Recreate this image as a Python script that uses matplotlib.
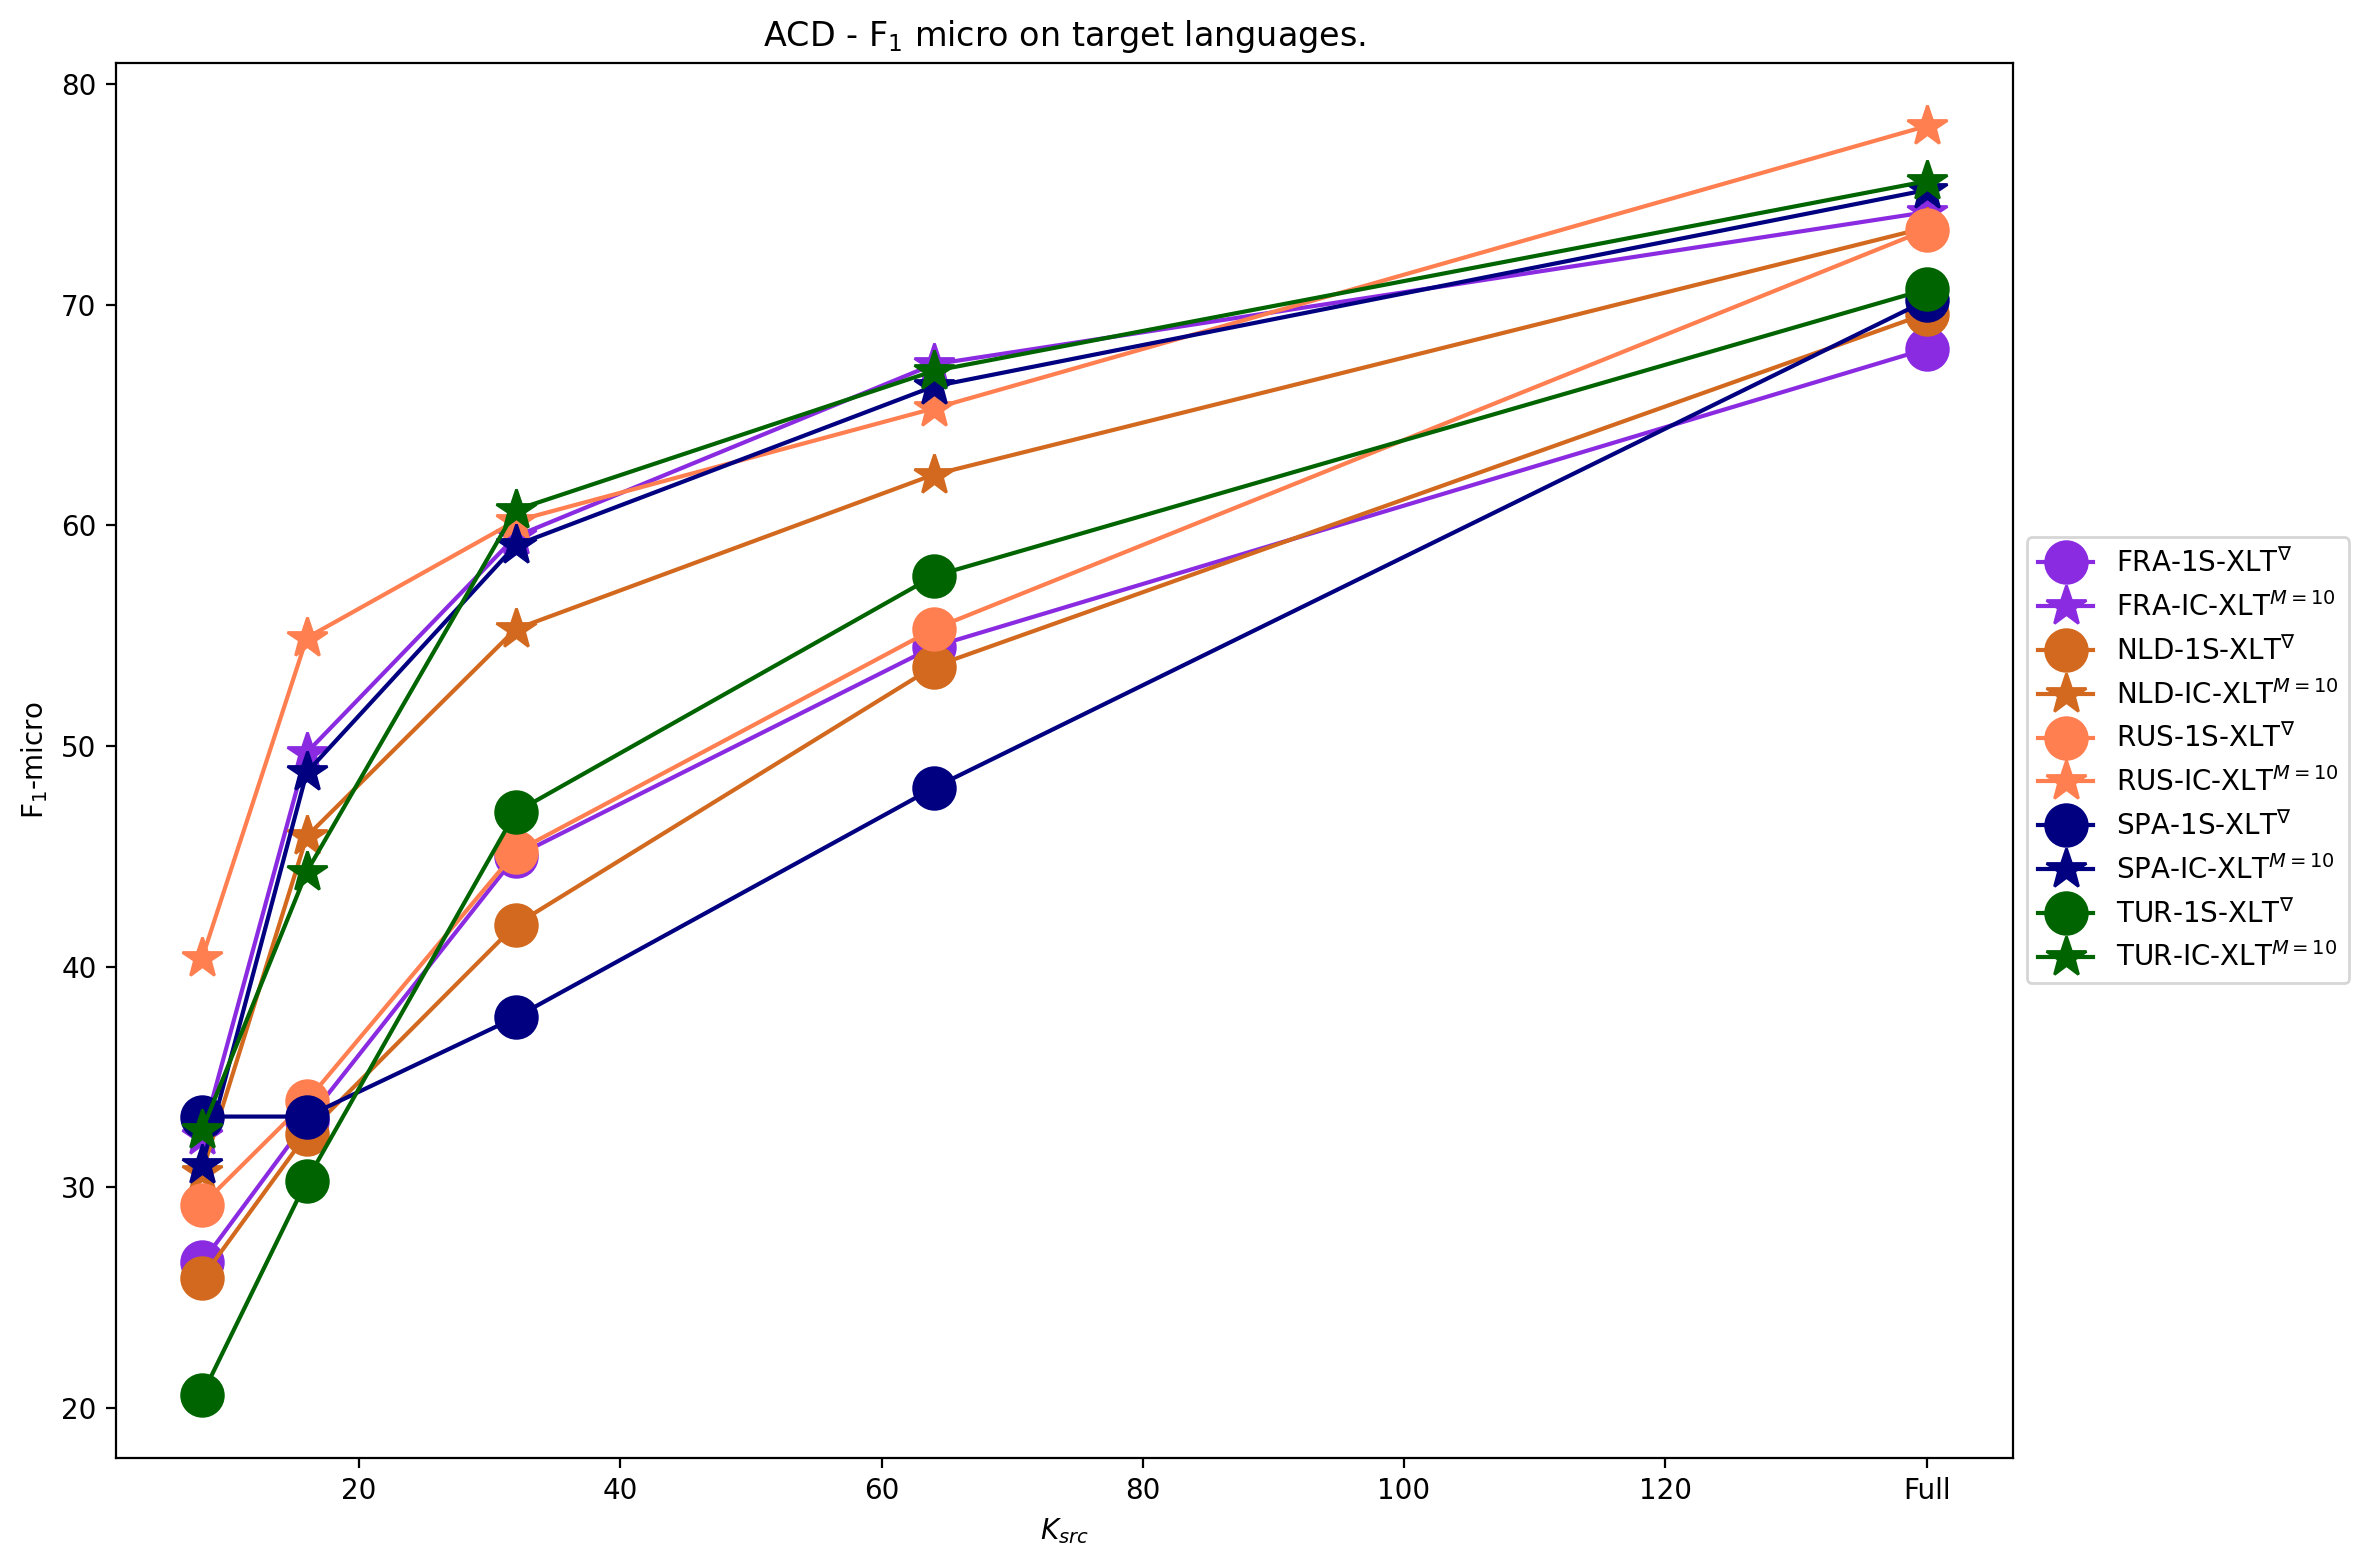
import matplotlib
matplotlib.use("Agg")
import matplotlib.pyplot as plt

# K_src values, "Full" placed at 140
k_src = [8, 16, 32, 64, 140]
x_ticks = [20, 40, 60, 80, 100, 120, 140]
x_tick_labels = ['20', '40', '60', '80', '100', '120', 'Full']

fra_1s = [26.6, 33.0, 45.0, 54.5, 68.0]
fra_ic = [32.3, 49.7, 59.5, 67.3, 74.2]
nld_1s = [25.9, 32.4, 41.9, 53.6, 69.6]
nld_ic = [30.7, 45.9, 55.3, 62.3, 73.5]
rus_1s = [29.2, 33.9, 45.2, 55.3, 73.4]
rus_ic = [40.4, 54.9, 60.2, 65.3, 78.1]
spa_1s = [33.2, 33.2, 37.7, 48.1, 70.2]
spa_ic = [31.0, 48.8, 59.1, 66.3, 75.2]
tur_1s = [20.6, 30.3, 47.0, 57.7, 70.7]
tur_ic = [32.6, 44.3, 60.7, 67.0, 75.6]

languages = ['FRA', 'NLD', 'RUS', 'SPA', 'TUR']
colors = ['blueviolet', 'chocolate', 'coral', 'navy', 'darkgreen']
one_shot = [fra_1s, nld_1s, rus_1s, spa_1s, tur_1s]
in_context = [fra_ic, nld_ic, rus_ic, spa_ic, tur_ic]

fig = plt.figure(figsize=(2368 / 200, 1566 / 200), dpi=200)
ax = fig.add_axes([0.049, 0.069, 0.801, 0.891])

for lang, color, y1, y2 in zip(languages, colors, one_shot, in_context):
    ax.plot(k_src, y1, marker='o', markersize=15, color=color,
            label=lang + r'-1S-XLT$^{\nabla}$')
    ax.plot(k_src, y2, marker='*', markersize=15, color=color,
            label=lang + r'-IC-XLT$^{M=10}$')

ax.set_xticks(x_ticks)
ax.set_xticklabels(x_tick_labels)
ax.set_xlabel('$K_{src}$')
ax.set_ylabel('F$_1$-micro')
ax.set_title('ACD - F$_1$ micro on target languages.')
ax.legend(loc='center left', bbox_to_anchor=(1.0, 0.5))

fig.savefig('out.png', dpi=200)
